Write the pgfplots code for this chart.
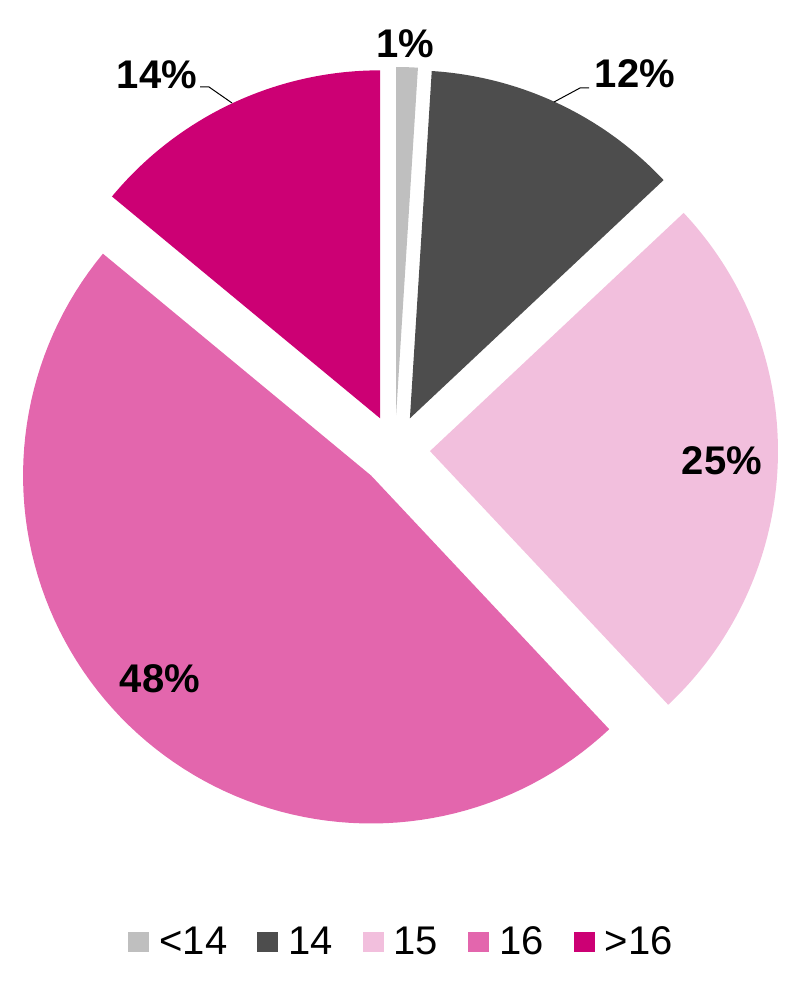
\documentclass[border=0pt]{standalone}
\usepackage{pgfplots}
\pgfplotsset{compat=1.18}
\usepackage{fontspec}
\setmainfont{Liberation Sans}
\definecolor{cA}{HTML}{BFBFBF}
\definecolor{cB}{HTML}{4D4D4D}
\definecolor{cC}{HTML}{F2BFDD}
\definecolor{cD}{HTML}{E366AD}
\definecolor{cE}{HTML}{CC0074}
% data (percent)
\def\pA{1}\def\pB{12}\def\pC{25}\def\pD{48}\def\pE{14}
\def\cx{395}\def\cy{-450}\def\rr{348}\def\ex{35}
\newcommand{\slice}[3]{% color, start percent (cumulative), percent
  \pgfmathsetmacro{\aS}{90-3.6*#2}%
  \pgfmathsetmacro{\aE}{90-3.6*(#2+#3)}%
  \pgfmathsetmacro{\aM}{(\aS+\aE)/2}%
  \pgfmathsetmacro{\ox}{\cx+\ex*cos(\aM)}%
  \pgfmathsetmacro{\oy}{\cy+\ex*sin(\aM)}%
  \edef\temp{\noexpand\addplot[fill=#1, draw=none, domain=\aE:\aS, samples=90, variable=\noexpand\t, forget plot]
    ({\ox+\rr*cos(\noexpand\t)},{\oy+\rr*sin(\noexpand\t)}) -- (axis cs:\ox,\oy) -- cycle;}%
  \temp
}
\begin{document}
\begin{tikzpicture}
\begin{axis}[
  x=0.5pt, y=0.5pt,
  xmin=0, xmax=793, ymin=-985, ymax=0,
  hide axis, clip=false,
  legend columns=5,
  legend style={at={(axis cs:400.5,-942)}, anchor=center, draw=none, fill=none,
    font=\fontsize{20}{22}\selectfont,
    nodes={inner sep=0pt},
    /tikz/every even column/.append style={column sep=15pt},
    inner sep=0pt},
  legend image code/.code={\fill (0pt,-5pt) rectangle (10.5pt,5pt); \path (15.5pt,0pt);},
]
\path (axis cs:0,0) rectangle (axis cs:793,-985);
\pgfmathsetmacro{\sB}{\pA}
\pgfmathsetmacro{\sC}{\pA+\pB}
\pgfmathsetmacro{\sD}{\pA+\pB+\pC}
\pgfmathsetmacro{\sE}{\pA+\pB+\pC+\pD}
\slice{cA}{0}{\pA}
\slice{cB}{\sB}{\pB}
\slice{cC}{\sC}{\pC}
\slice{cD}{\sD}{\pD}
\slice{cE}{\sE}{\pE}
% leader lines
\addplot[black, line width=0.5pt, forget plot] coordinates {(200,-87) (209,-87) (232,-103)};
\addplot[black, line width=0.5pt, forget plot] coordinates {(554,-102) (580,-88) (589,-88)};
% labels
\begin{scope}[every node/.style={font=\bfseries\fontsize{20}{22}\selectfont, inner sep=0pt}]
\node at (axis cs:405,-44) {1\%};
\node at (axis cs:635,-74) {12\%};
\node at (axis cs:157,-75) {14\%};
\node at (axis cs:722,-461) {25\%};
\node at (axis cs:160,-679) {48\%};
\end{scope}
\addlegendimage{fill=cA, draw=none}\addlegendentry{<14}
\addlegendimage{fill=cB, draw=none}\addlegendentry{14}
\addlegendimage{fill=cC, draw=none}\addlegendentry{15}
\addlegendimage{fill=cD, draw=none}\addlegendentry{16}
\addlegendimage{fill=cE, draw=none}\addlegendentry{>16}
\end{axis}
\end{tikzpicture}
\end{document}
